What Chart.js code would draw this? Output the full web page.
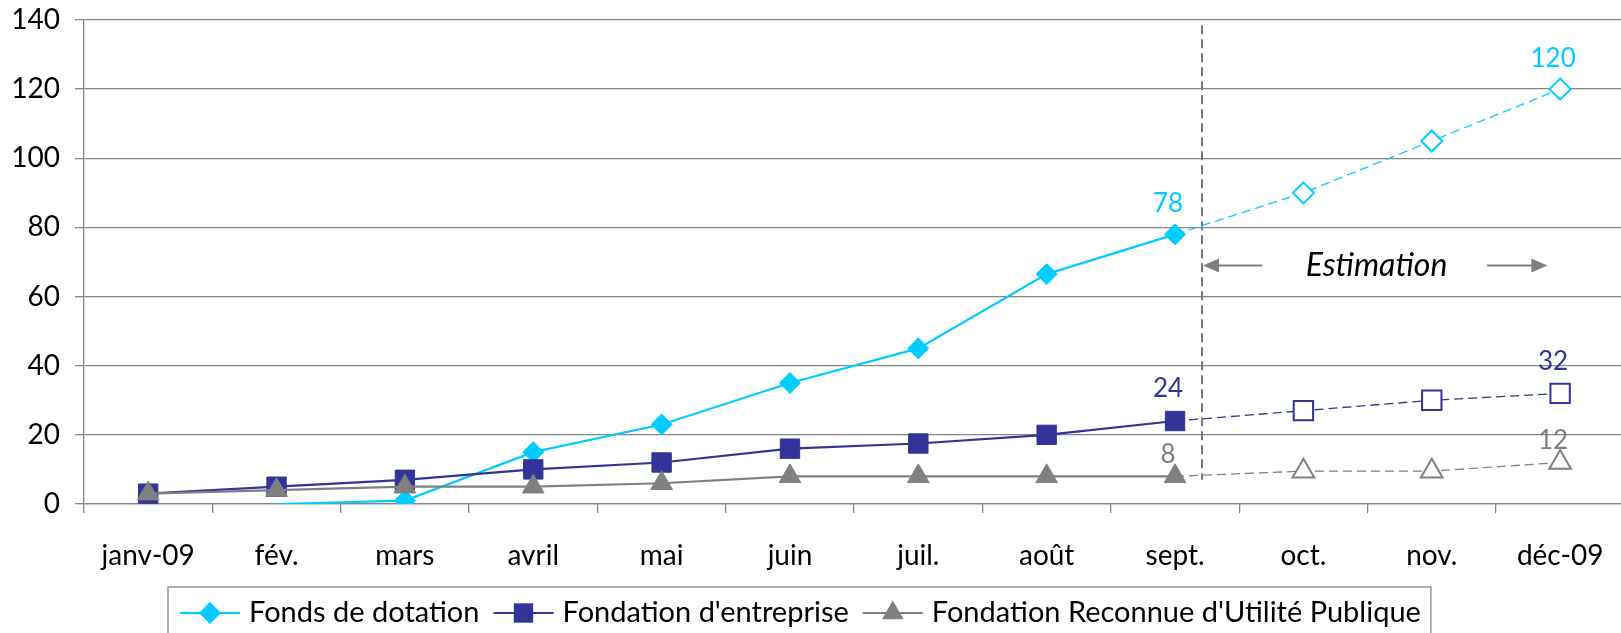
<!DOCTYPE html>
<html lang="fr">
<head>
<meta charset="utf-8">
<title>Fonds de dotation - 2009</title>
<script src="https://cdn.jsdelivr.net/npm/chart.js@4.4.1/dist/chart.umd.min.js"></script>
<style>
  html, body { margin: 0; padding: 0; background: #fff; overflow: hidden; }
  #wrap { width: 1640px; height: 660px; }
</style>
</head>
<body>
<div id="wrap"><canvas id="evolChart" width="1640" height="660"></canvas></div>
<script>
const months = ["janv-09", "fév.", "mars", "avril", "mai", "juin", "juil.", "août", "sept.", "oct.", "nov.", "déc-09"];
const fondsDotation = [null, 0, 1, 15, 23, 35, 45, 66.5, 78, 90, 105, 120];
const fondationEntreprise = [3, 5, 7, 10, 12, 16, 17.5, 20, 24, 27, 30, 32];
const fondationRUP = [3, 4, 5, 5, 6, 8, 8, 8, 8, 9.5, 9.5, 12];
const yTicks = [0, 20, 40, 60, 80, 100, 120, 140];
const firstEstimate = 9;        // oct. -> déc. are estimates
const labelledPoints = [8, 11]; // values written above the points
const estimationText = "Estimation";

const FONT = "Lato, 'Open Sans', sans-serif";
const GRID = "#868686";
Chart.defaults.font.family = FONT;

function series(label, data, color, style, radius, order, labelOffset) {
  return {
    label: label,
    data: data,
    order: order,
    borderColor: color,
    backgroundColor: color,
    borderWidth: 2.2,
    pointStyle: style,
    pointRadius: ctx => ctx.raw === 0 ? 0 : radius,
    pointHoverRadius: radius,
    pointBorderWidth: ctx => ctx.dataIndex >= firstEstimate ? 2 : 1,
    pointBackgroundColor: ctx => ctx.dataIndex >= firstEstimate ? "#fff" : color,
    pointBorderColor: color,
    segment: {
      borderDash: ctx => ctx.p1DataIndex >= firstEstimate ? [9, 5] : undefined,
      borderWidth: ctx => ctx.p1DataIndex >= firstEstimate ? 1.3 : undefined
    },
    tension: 0,
    labelOffset: labelOffset
  };
}

function drawMarker(ctx, style, r, x, y) {
  ctx.beginPath();
  if (style === "rectRot") {
    ctx.moveTo(x - r, y); ctx.lineTo(x, y - r); ctx.lineTo(x + r, y); ctx.lineTo(x, y + r);
  } else if (style === "rect") {
    const h = r * Math.SQRT1_2;
    ctx.rect(x - h, y - h, 2 * h, 2 * h);
  } else {
    ctx.moveTo(x, y - r);
    ctx.lineTo(x + r * 0.866, y + r / 2);
    ctx.lineTo(x - r * 0.866, y + r / 2);
  }
  ctx.closePath();
  ctx.fill();
}

// values above sept. and déc.
const pointLabels = {
  id: "pointLabels",
  afterDatasetsDraw(chart) {
    const ctx = chart.ctx;
    ctx.save();
    ctx.font = "26px " + FONT;
    ctx.textAlign = "center";
    ctx.textBaseline = "middle";
    chart.data.datasets.forEach((ds, i) => {
      const meta = chart.getDatasetMeta(i);
      ctx.fillStyle = ds.borderColor;
      labelledPoints.forEach(idx => {
        const pt = meta.data[idx];
        if (!pt || ds.data[idx] == null) return;
        ctx.fillText(String(ds.data[idx]), pt.x - 7, pt.y - ds.labelOffset);
      });
    });
    ctx.restore();
  }
};

// dashed separator + "Estimation" arrows
const estimation = {
  id: "estimation",
  beforeDatasetsDraw(chart) {
    const { ctx, scales } = chart;
    const x = scales.x, y = scales.y;
    const sepX = x.getPixelForValue(8.21);
    const arrowY = y.getPixelForValue(69);
    ctx.save();
    ctx.strokeStyle = "#7a7a7a";
    ctx.lineWidth = 2;
    ctx.setLineDash([9, 5]);
    ctx.beginPath();
    ctx.moveTo(sepX, y.getPixelForValue(138.5));
    ctx.lineTo(sepX, y.getPixelForValue(7));
    ctx.stroke();
    ctx.setLineDash([]);

    ctx.strokeStyle = "#808080";
    ctx.fillStyle = "#808080";
    const leftTail = x.getPixelForValue(8.68);
    const rightTail = x.getPixelForValue(10.43);
    const rightTip = x.getPixelForValue(10.9);
    const arrow = (from, to) => {
      const dir = Math.sign(to - from);
      ctx.beginPath();
      ctx.moveTo(from, arrowY);
      ctx.lineTo(to - dir * 14, arrowY);
      ctx.stroke();
      ctx.beginPath();
      ctx.moveTo(to, arrowY);
      ctx.lineTo(to - dir * 16, arrowY - 7);
      ctx.lineTo(to - dir * 16, arrowY + 7);
      ctx.closePath();
      ctx.fill();
    };
    arrow(leftTail, sepX + 1);
    arrow(rightTail, rightTip);

    ctx.fillStyle = "#000";
    ctx.font = "italic 32px " + FONT;
    ctx.textAlign = "center";
    ctx.textBaseline = "middle";
    ctx.fillText(estimationText, x.getPixelForValue(9.57), arrowY);
    ctx.restore();
  }
};

// Excel-like legend in a box, line + marker for each series
const boxLegend = {
  id: "boxLegend",
  afterDraw(chart) {
    const { ctx, chartArea } = chart;
    const left = chartArea.left + 84;
    const top = chartArea.bottom + 83;
    const midY = top + 26;
    ctx.save();
    ctx.font = "29px " + FONT;
    ctx.textBaseline = "middle";
    const sets = chart.data.datasets;
    let w = 12 + 10;
    sets.forEach((ds, i) => {
      w += 60 + 9 + ctx.measureText(ds.label).width;
      if (i > 0) w += 14;
    });
    ctx.strokeStyle = GRID;
    ctx.lineWidth = 1.3;
    ctx.strokeRect(left, top, w, 60);

    let x = left + 12;
    sets.forEach(ds => {
      ctx.strokeStyle = ds.borderColor;
      ctx.fillStyle = ds.borderColor;
      ctx.lineWidth = 2.2;
      ctx.beginPath();
      ctx.moveTo(x, midY);
      ctx.lineTo(x + 60, midY);
      ctx.stroke();
      drawMarker(ctx, ds.pointStyle, ds.legendRadius, x + 30, midY);
      x += 69;
      ctx.fillStyle = "#000";
      ctx.fillText(ds.label, x, midY);
      x += ctx.measureText(ds.label).width + 14;
    });
    ctx.restore();
  }
};

const datasets = [
  series("Fonds de dotation", fondsDotation, "#00CCFF", "rectRot", 10.5, 3, 31),
  series("Fondation d'entreprise", fondationEntreprise, "#333399", "rect", 13.7, 2, 32),
  series("Fondation Reconnue d'Utilité Publique", fondationRUP, "#808080", "triangle", 12.5, 1, 22)
];
datasets[0].legendRadius = 11;
datasets[1].legendRadius = 13.7;
datasets[2].legendRadius = 12.5;

new Chart(document.getElementById("evolChart"), {
  type: "line",
  data: { labels: months, datasets: datasets },
  plugins: [estimation, pointLabels, boxLegend],
  options: {
    responsive: false,
    animation: false,
    layout: { padding: { top: 20, right: 9, bottom: 86, left: 0 } },
    plugins: {
      legend: { display: false },
      tooltip: { enabled: false }
    },
    scales: {
      x: {
        offset: true,
        afterFit: s => { s.height = 70; },
        grid: { offset: true, drawOnChartArea: false, color: GRID, lineWidth: 1.3, tickLength: 9 },
        border: { color: GRID, width: 1.3 },
        ticks: { color: "#000", font: { size: 28 }, padding: 26, maxRotation: 0, autoSkip: false }
      },
      y: {
        min: 0,
        max: 140,
        afterBuildTicks: s => { s.ticks = yTicks.map(v => ({ value: v })); },
        afterFit: s => { s.width = 84; s.paddingTop = 0; s.paddingBottom = 0; },
        grid: { color: GRID, lineWidth: 1.3, tickLength: 9 },
        border: { color: GRID, width: 1.3 },
        ticks: { color: "#000", font: { size: 28 }, padding: 15 }
      }
    }
  }
});
</script>
</body>
</html>
